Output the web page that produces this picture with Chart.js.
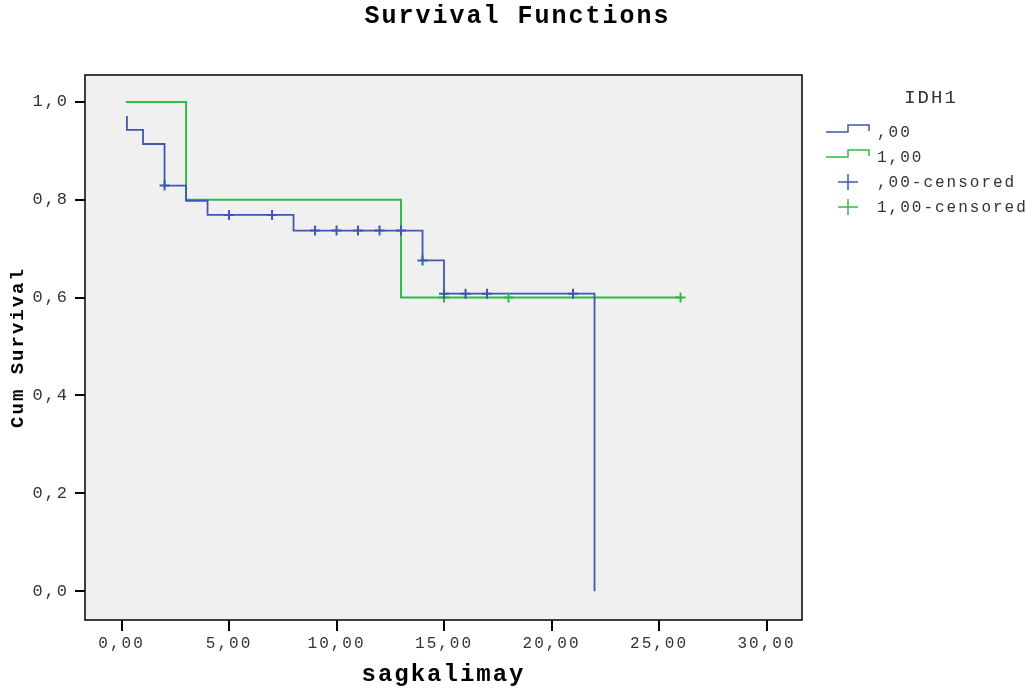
<!DOCTYPE html>
<html>
<head>
  <meta charset="UTF-8" />
  <title>Survival Functions</title>
  <script src="https://cdn.jsdelivr.net/npm/chart.js"></script>
  <style>
    body { margin: 0; background: #fff; }
  </style>
</head>
<body>
  <canvas id="chart" width="1035" height="693"></canvas>

  <script>
    const xTicks = [0, 5, 10, 15, 20, 25, 30];
    const yTicks = [0, 0.2, 0.4, 0.6, 0.8, 1.0];
    const groupNames = [',00', '1,00'];

    // IDH1 = ,00  (step points: time, survival after the drop)
    const timeA = [0.25, 0.25, 1, 2, 3, 4, 8, 14, 15, 22];
    const survA = [0.971, 0.943, 0.914, 0.829, 0.798, 0.769, 0.737, 0.676, 0.608, 0];
    const censTimeA = [2, 5, 7, 9, 10, 11, 12, 13, 14, 15, 16, 17, 21];
    const censSurvA = [0.829, 0.769, 0.769, 0.737, 0.737, 0.737, 0.737, 0.737, 0.676, 0.608, 0.608, 0.608, 0.608];

    // IDH1 = 1,00
    const timeB = [0.2, 3, 13, 26];
    const survB = [1.0, 0.8, 0.6, 0.6];
    const censTimeB = [15, 18, 26];
    const censSurvB = [0.6, 0.6, 0.6];

    const BLUE = '#3e58ad';
    const GREEN = '#2fba48';
    const mono = "'Liberation Mono', 'Courier New', monospace";

    const pts = (xs, ys) => xs.map((x, i) => ({ x: x, y: ys[i] }));
    const fmt = (v, d) => Number(v).toFixed(d).replace('.', ',');

    const framePlugin = {
      id: 'frame',
      beforeDraw(chart) {
        const { ctx, chartArea: a } = chart;
        ctx.save();
        ctx.fillStyle = '#f0f0f0';
        ctx.fillRect(a.left, a.top, a.right - a.left, a.bottom - a.top);
        ctx.restore();
        ctx.letterSpacing = '2px';
      },
      afterDatasetsDraw(chart) {
        const { ctx, chartArea: a } = chart;
        ctx.save();
        ctx.strokeStyle = '#000';
        ctx.lineWidth = 1.5;
        ctx.strokeRect(a.left, a.top, a.right - a.left, a.bottom - a.top);
        ctx.restore();
      },
      afterDraw(chart) {
        const ctx = chart.ctx;
        ctx.save();
        ctx.letterSpacing = '2px';
        ctx.fillStyle = '#000';
        ctx.textAlign = 'center';
        ctx.textBaseline = 'middle';
        ctx.font = 'bold 25px ' + mono;
        ctx.fillText('Survival Functions', chart.width / 2, 17);

        // legend
        ctx.fillStyle = '#333';
        ctx.font = '19px ' + mono;
        ctx.fillText('IDH1', 931, 98);
        ctx.font = '16px ' + mono;
        ctx.textAlign = 'left';
        chart.data.datasets.forEach((ds, i) => {
          const y = 132 + i * 25;
          ctx.strokeStyle = ds.borderColor;
          ctx.lineWidth = 1.5;
          ctx.beginPath();
          if (ds.showLine) {
            ctx.moveTo(826, y);
            ctx.lineTo(848, y);
            ctx.lineTo(848, y - 7);
            ctx.lineTo(869, y - 7);
            ctx.lineTo(869, y - 1);
          } else {
            ctx.moveTo(838, y);
            ctx.lineTo(858, y);
            ctx.moveTo(848, y - 8);
            ctx.lineTo(848, y + 8);
          }
          ctx.stroke();
          ctx.fillText(ds.label, 877, y + 1);
        });
        ctx.restore();
      }
    };

    new Chart(document.getElementById('chart'), {
      type: 'scatter',
      data: {
        datasets: [
          {
            label: groupNames[0], data: pts(timeA, survA), showLine: true, stepped: true,
            borderColor: BLUE, borderWidth: 1.8, pointRadius: 0, order: 1
          },
          {
            label: groupNames[1], data: pts(timeB, survB), showLine: true, stepped: true,
            borderColor: GREEN, borderWidth: 2, pointRadius: 0, order: 2
          },
          {
            label: groupNames[0] + '-censored', data: pts(censTimeA, censSurvA), showLine: false,
            pointStyle: 'cross', pointRadius: 5, borderColor: BLUE, borderWidth: 2, order: 0
          },
          {
            label: groupNames[1] + '-censored', data: pts(censTimeB, censSurvB), showLine: false,
            pointStyle: 'cross', pointRadius: 5, borderColor: GREEN, borderWidth: 2, order: 0
          }
        ]
      },
      options: {
        responsive: false,
        animation: false,
        layout: { padding: { top: 75, right: 233, left: 0, bottom: 0 } },
        plugins: {
          legend: { display: false },
          tooltip: { enabled: false }
        },
        scales: {
          x: {
            type: 'linear',
            min: -1.7,
            max: 31.65,
            afterBuildTicks: s => { s.ticks = xTicks.map(v => ({ value: v })); },
            afterFit: s => { s.height = 73; },
            border: { display: false },
            grid: { drawOnChartArea: false, drawTicks: true, tickLength: 11, color: '#000', lineWidth: 2 },
            ticks: {
              padding: 3,
              color: '#333',
              font: { family: mono, size: 16 },
              maxRotation: 0,
              callback: v => fmt(v, 2)
            },
            title: {
              display: true,
              text: 'sagkalimay',
              color: '#000',
              font: { family: mono, size: 24, weight: 'bold' },
              padding: { top: 0, bottom: 4 }
            }
          },
          y: {
            type: 'linear',
            min: -0.059,
            max: 1.055,
            afterBuildTicks: s => { s.ticks = yTicks.map(v => ({ value: v })); },
            afterFit: s => { s.width = 85; },
            border: { display: false },
            grid: { drawOnChartArea: false, drawTicks: true, tickLength: 10, color: '#000', lineWidth: 2 },
            ticks: {
              padding: 6,
              color: '#333',
              font: { family: mono, size: 17 },
              callback: v => fmt(v, 1)
            },
            title: {
              display: true,
              text: 'Cum Survival',
              color: '#000',
              font: { family: mono, size: 19, weight: 'bold' },
              padding: { top: 7, bottom: 0 }
            }
          }
        }
      },
      plugins: [framePlugin]
    });
  </script>
</body>
</html>
